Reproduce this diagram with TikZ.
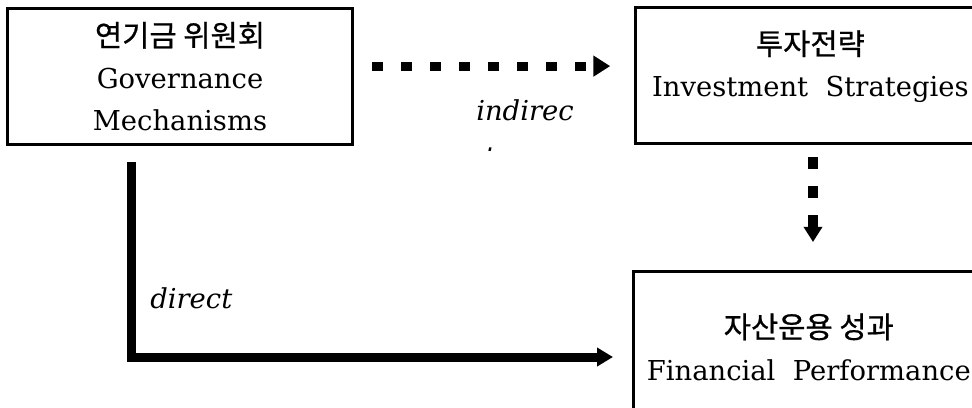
\documentclass[tikz,border=0pt]{standalone}
\usepackage{fontspec}
\setmainfont{DejaVu Serif}
\newfontfamily\kr[Scale=1.08, FakeBold=0.7]{Noto Sans CJK KR}
\usetikzlibrary{arrows.meta}

\begin{document}
\begin{tikzpicture}[
    box/.style={draw, line width=0.075cm, minimum height=3.4cm, align=center, inner sep=0pt, font=\fontsize{19.5}{30}\selectfont},
    solidarrow/.style={line width=0.225cm, -{Triangle[length=0.4cm, width=0.45cm]}},
    dotarrow/.style={line width=0.225cm, dash pattern=on 0.275cm off 0.45cm, -{Triangle[length=0.42cm, width=0.5cm]}},
    tag/.style={inner sep=0pt, anchor=base west, font=\fontsize{19.5}{30}\selectfont\itshape}
]
    \useasboundingbox (0,0) rectangle (24.3,-10.175);
    \clip (0,0) rectangle (24.3,-10.175);

    % Committee box
    \node[box, minimum width=8.625cm] (gov) at (4.5,-1.9125) {
        {\kr 연기금 위원회}\\
        Governance\\
        Mechanisms
    };

    % Strategy and performance boxes (cut at the right edge)
    \node[box, minimum width=8.735cm] (strat) at (20.26,-1.89) {
        {\kr 투자전략}\\
        Investment\ \ Strategies\rule[-0.6cm]{0pt}{0.1cm}
    };
    \node[box, minimum width=8.76cm, minimum height=3.775cm] (perf) at (20.22,-8.675) {
        {\kr 자산운용 성과}\\
        Financial\ \ Performance
    };

    % Indirect path
    \draw[dotarrow, shorten <=0.45cm, shorten >=0.6cm] ([yshift=0.26cm]gov.east) -- ([yshift=0.26cm]gov.east -| strat.west);
    \draw[dotarrow, line width=0.25cm, dash pattern=on 0.3cm off 0.425cm, -{Triangle[length=0.38cm, width=0.45cm]}, shorten <=0.3cm, shorten >=0.7cm] ([xshift=0.065cm]strat.south) -- ([xshift=0.065cm]strat.south |- perf.north);
    \node[tag] (indirlbl) at (11.9,-3.02) {indirec};
    \begin{scope}
        \clip (11.9,-3.6) rectangle (12.6,-3.7625);
        \node[tag] (indirt) at (12.1,-4.15) {t};
    \end{scope}

    % Direct path
    \draw[solidarrow, shorten <=0.4cm, shorten >=0.4775cm] ([xshift=-1.2125cm]gov.south) |- ([yshift=-0.25cm]perf.west);
    \node[tag] (directlbl) at (3.75,-7.7) {direct};
\end{tikzpicture}
\end{document}
